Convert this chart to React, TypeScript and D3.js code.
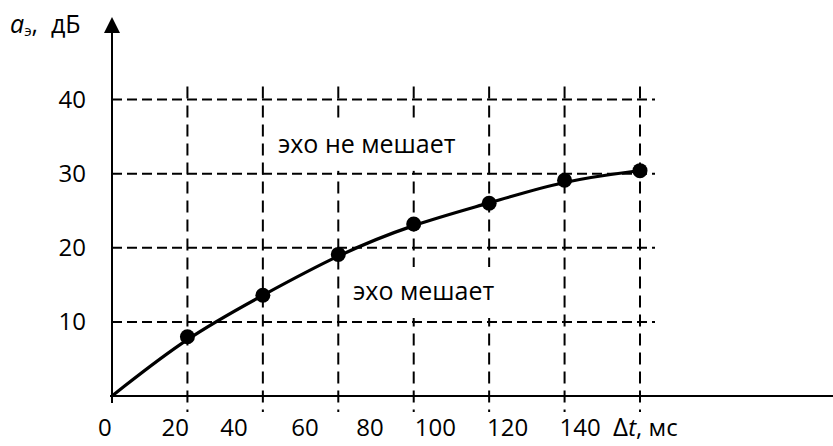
import React from "react";
import * as d3 from "d3";

// measured points: echo delay (ms) vs admissible echo level (dB)
const delays = [20, 40, 60, 80, 100, 120, 140];
const echoLevels = [8, 13.6, 19.1, 23.2, 26, 29.1, 30.4];

const xGrid = [20, 40, 60, 80, 100, 120, 140];
const yTicks = [10, 20, 30, 40];
const xTickLabels = ["0", "20", "40", "60", "80", "100", "120", "140"];

const zoneLabels = [
  { text: "эхо не мешает", x: 44, y: 32.8, w: 204 },
  { text: "эхо мешает", x: 63.9, y: 12.95, w: 152 },
];

const FONT = "'Open Sans', 'Noto Sans', sans-serif";

export default function App() {
  const width = 833;
  const height = 446;

  const x = d3.scaleLinear().domain([0, 140]).range([112, 640]);
  const y = d3.scaleLinear().domain([0, 40]).range([396, 99.5]);

  const curvePts: [number, number][] = [[0, 0], ...delays.map((d, i) => [d, echoLevels[i]] as [number, number])];
  const line = d3
    .line<[number, number]>()
    .x((d) => x(d[0]))
    .y((d) => y(d[1]))
    .curve(d3.curveBasis);

  // tick labels are typed in one row with spaces, as in the source figure
  const gaps = [8, 5, 7, 6, 5, 5, 5, 2];
  const tickRow = xTickLabels.map((l, i) => l + " ".repeat(gaps[i])).join("");

  return (
    <svg
      width={width}
      height={height}
      style={{ position: "absolute", left: 0, top: 0, background: "#fff" }}
      fontFamily={FONT}
    >
      {/* grid */}
      <g stroke="#000" strokeWidth={2} fill="none">
        {yTicks.map((t) => (
          <line key={"h" + t} x1={x(0)} x2={x(140) + 15} y1={y(t)} y2={y(t)} strokeDasharray="10,5" />
        ))}
        {xGrid.map((t) => (
          <line key={"v" + t} x1={x(t)} x2={x(t)} y1={y(40) - 13} y2={y(0) + 16} strokeDasharray="12,7" />
        ))}
      </g>

      {/* zone captions on white boxes */}
      {zoneLabels.map((z) => (
        <g key={z.text}>
          <rect x={x(z.x) - 9} y={y(z.y) - 33} width={z.w} height={51} fill="#fff" />
          <text x={x(z.x)} y={y(z.y)} fontSize={25} fill="#000">
            {z.text}
          </text>
        </g>
      ))}

      {/* axes */}
      <line x1={110} x2={width} y1={y(0)} y2={y(0)} stroke="#000" strokeWidth={2} />
      <line x1={x(0)} x2={x(0)} y1={y(0) + 7} y2={30} stroke="#000" strokeWidth={2} />
      <path d={`M${x(0)},17 L${x(0) - 8},33 L${x(0) + 8},33 Z`} fill="#000" />

      {/* curve and points */}
      <path d={line(curvePts) ?? ""} fill="none" stroke="#000" strokeWidth={3.2} />
      {delays.map((d, i) => (
        <circle key={d} cx={x(d)} cy={y(echoLevels[i])} r={7.5} fill="#000" />
      ))}

      {/* y tick labels */}
      {yTicks.map((t) => (
        <text key={"yl" + t} x={86} y={y(t)} dy="0.35em" textAnchor="end" fontSize={24} fill="#000">
          {t}
        </text>
      ))}

      {/* x tick labels */}
      <text x={98} y={436} fontSize={24} fill="#000" xmlSpace="preserve" style={{ whiteSpace: "pre" }}>
        <tspan>{tickRow}</tspan>
        <tspan fontSize={26}>Δ</tspan>
        <tspan fontStyle="italic">t</tspan>
        <tspan>, мс</tspan>
      </text>

      {/* y axis title */}
      <text x={10} y={33} fontSize={25} fill="#000" xmlSpace="preserve" style={{ whiteSpace: "pre" }}>
        <tspan fontStyle="italic">a</tspan>
        <tspan fontSize={15} dy={3}>э</tspan>
        <tspan dy={-3}>,  дБ</tspan>
      </text>
    </svg>
  );
}
